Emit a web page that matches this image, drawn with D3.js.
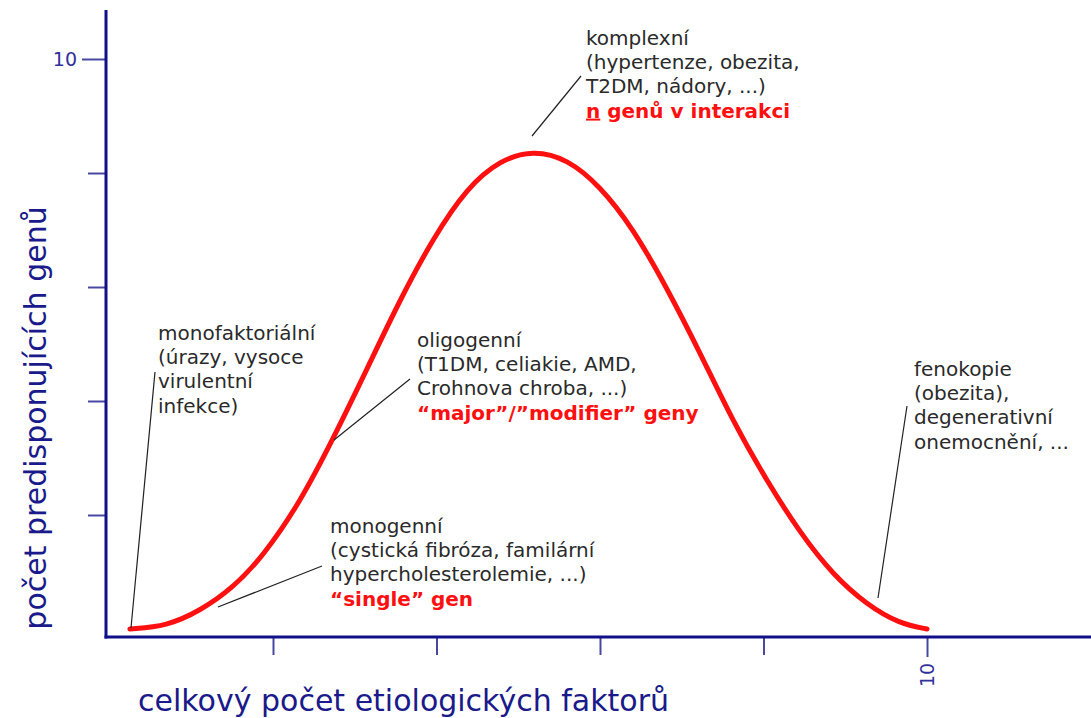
<!DOCTYPE html>
<html>
<head>
<meta charset="utf-8">
<script src="https://cdn.jsdelivr.net/npm/d3@7"></script>
<style>
  body { margin: 0; background: #fff; }
  text { font-family: "DejaVu Sans", Verdana, sans-serif; }
</style>
</head>
<body>
<div id="chart-area"></div>
<script>
// curve: x = total number of etiological factors, y = number of predisposing genes
var factorValues = [0.25, 0.70, 1.11, 1.51, 1.88, 2.33, 2.73, 3.15, 3.55, 3.96, 4.37, 4.78, 5.18,
                    5.60, 6.00, 6.40, 6.82, 7.22, 7.63, 8.04, 8.45, 8.85, 9.27, 9.67, 10.0];
var geneValues   = [0.00, 0.05, 0.32, 0.72, 1.28, 2.22, 3.32, 4.56, 5.77, 6.86, 7.74, 8.23, 8.40,
                    8.25, 7.77, 7.04, 5.98, 4.86, 3.63, 2.60, 1.68, 0.95, 0.42, 0.09, 0.00];

var xTickValues = [2, 4, 6, 8, 10];
var yTickValues = [2, 4, 6, 8, 10];
var xTickLabels = ["", "", "", "", "10"];
var yTickLabels = ["", "", "", "", "10"];

var xTitle = "celkový počet etiologických faktorů";
var yTitle = "počet predisponujících genů";

var width = 1091, height = 718;
var axisColor = "#10108a", tickColor = "#4848a0", textColor = "#2a2a2a", red = "#ff1010";

var svg = d3.select("#chart-area").append("svg").attr("width", width).attr("height", height);

var x = d3.scaleLinear().domain([0, 10]).range([109.5, 927]);
var y = d3.scaleLinear().domain([0, 10]).range([629, 59]);
var axisX = 106, axisY = 637;

// ticks
var xAxis = d3.axisBottom(x).tickValues(xTickValues).tickSize(18)
    .tickFormat((d, i) => xTickLabels[i]);
var xAxisGroup = svg.append("g").attr("transform", "translate(0," + axisY + ")").call(xAxis);
xAxisGroup.select(".domain").remove();
xAxisGroup.selectAll(".tick line").attr("stroke", tickColor).attr("stroke-width", 2)
    .attr("y2", (d) => d === 10 ? 20 : 18);
xAxisGroup.selectAll(".tick text").attr("fill", "#30309a").attr("font-size", "19px")
    .attr("text-anchor", "middle").attr("y", 0).attr("dy", "0.36em")
    .attr("transform", "translate(0,38) rotate(-90)");

var yAxis = d3.axisLeft(y).tickValues(yTickValues).tickSize(18)
    .tickFormat((d, i) => yTickLabels[i]);
var yAxisGroup = svg.append("g").attr("transform", "translate(" + axisX + ",0)").call(yAxis);
yAxisGroup.select(".domain").remove();
yAxisGroup.selectAll(".tick line").attr("stroke", tickColor).attr("stroke-width", 2)
    .attr("x2", (d) => d === 10 ? -24 : -18);
yAxisGroup.selectAll(".tick text").attr("fill", "#30309a").attr("font-size", "19px")
    .attr("x", -29).attr("dy", "0.36em");

// axis lines
svg.append("line").attr("x1", axisX).attr("x2", axisX).attr("y1", 10).attr("y2", axisY + 1.5)
    .attr("stroke", axisColor).attr("stroke-width", 3);
svg.append("line").attr("x1", axisX - 1.5).attr("x2", width).attr("y1", axisY).attr("y2", axisY)
    .attr("stroke", axisColor).attr("stroke-width", 3);

// axis titles
svg.append("text").attr("x", 138).attr("y", 711).attr("font-size", "30px").attr("fill", "#1a1a8a")
    .text(xTitle);
svg.append("text").attr("transform", "translate(46,418) rotate(-90)").attr("text-anchor", "middle")
    .attr("font-size", "30px").attr("fill", "#1a1a8a").text(yTitle);

// red curve
var points = factorValues.map((d, i) => ({f: d, g: geneValues[i]}));
var line = d3.line().x((d) => x(d.f)).y((d) => y(d.g)).curve(d3.curveBasis);
svg.append("path").datum(points).attr("d", line).attr("fill", "none")
    .attr("stroke", red).attr("stroke-width", 5).attr("stroke-linecap", "round");

// annotations
var notes = [
  {x: 158, y: 340, lines: ["monofaktoriální", "(úrazy, vysoce", "virulentní", "infekce)"], red: null,
   lead: [[155, 372], [131, 628]]},
  {x: 417, y: 347, lines: ["oligogenní", "(T1DM, celiakie, AMD,", "Crohnova chroba, ...)"],
   red: [["“major”/”modifier” geny", false]], lead: [[410, 379], [334, 440]]},
  {x: 586, y: 45, lines: ["komplexní", "(hypertenze, obezita,", "T2DM, nádory, ...)"],
   red: [["n", true], [" genů v interakci", false]], lead: [[581, 76], [532, 136]]},
  {x: 330, y: 533, lines: ["monogenní", "(cystická fibróza, familární", "hypercholesterolemie, ...)"],
   red: [["“single” gen", false]], lead: [[322, 566], [218, 607]]},
  {x: 914, y: 376, lines: ["fenokopie", "(obezita),", "degenerativní", "onemocnění, ..."], red: null,
   lead: [[907, 406], [878, 598]]}
];
var lh = 24.2;

notes.forEach((n) => {
  svg.append("line").attr("x1", n.lead[0][0]).attr("y1", n.lead[0][1])
      .attr("x2", n.lead[1][0]).attr("y2", n.lead[1][1])
      .attr("stroke", "#222").attr("stroke-width", 1.2);
  n.lines.forEach((t, i) => {
    svg.append("text").attr("x", n.x).attr("y", n.y + i * lh).attr("font-size", "20px")
        .attr("fill", textColor).text(t);
  });
  if (n.red) {
    var rt = svg.append("text").attr("x", n.x).attr("y", n.y + n.lines.length * lh)
        .attr("font-size", "20px").attr("font-weight", "bold").attr("fill", red);
    n.red.forEach((p) => {
      rt.append("tspan").attr("text-decoration", p[1] ? "underline" : null).text(p[0]);
    });
  }
});
</script>
</body>
</html>
